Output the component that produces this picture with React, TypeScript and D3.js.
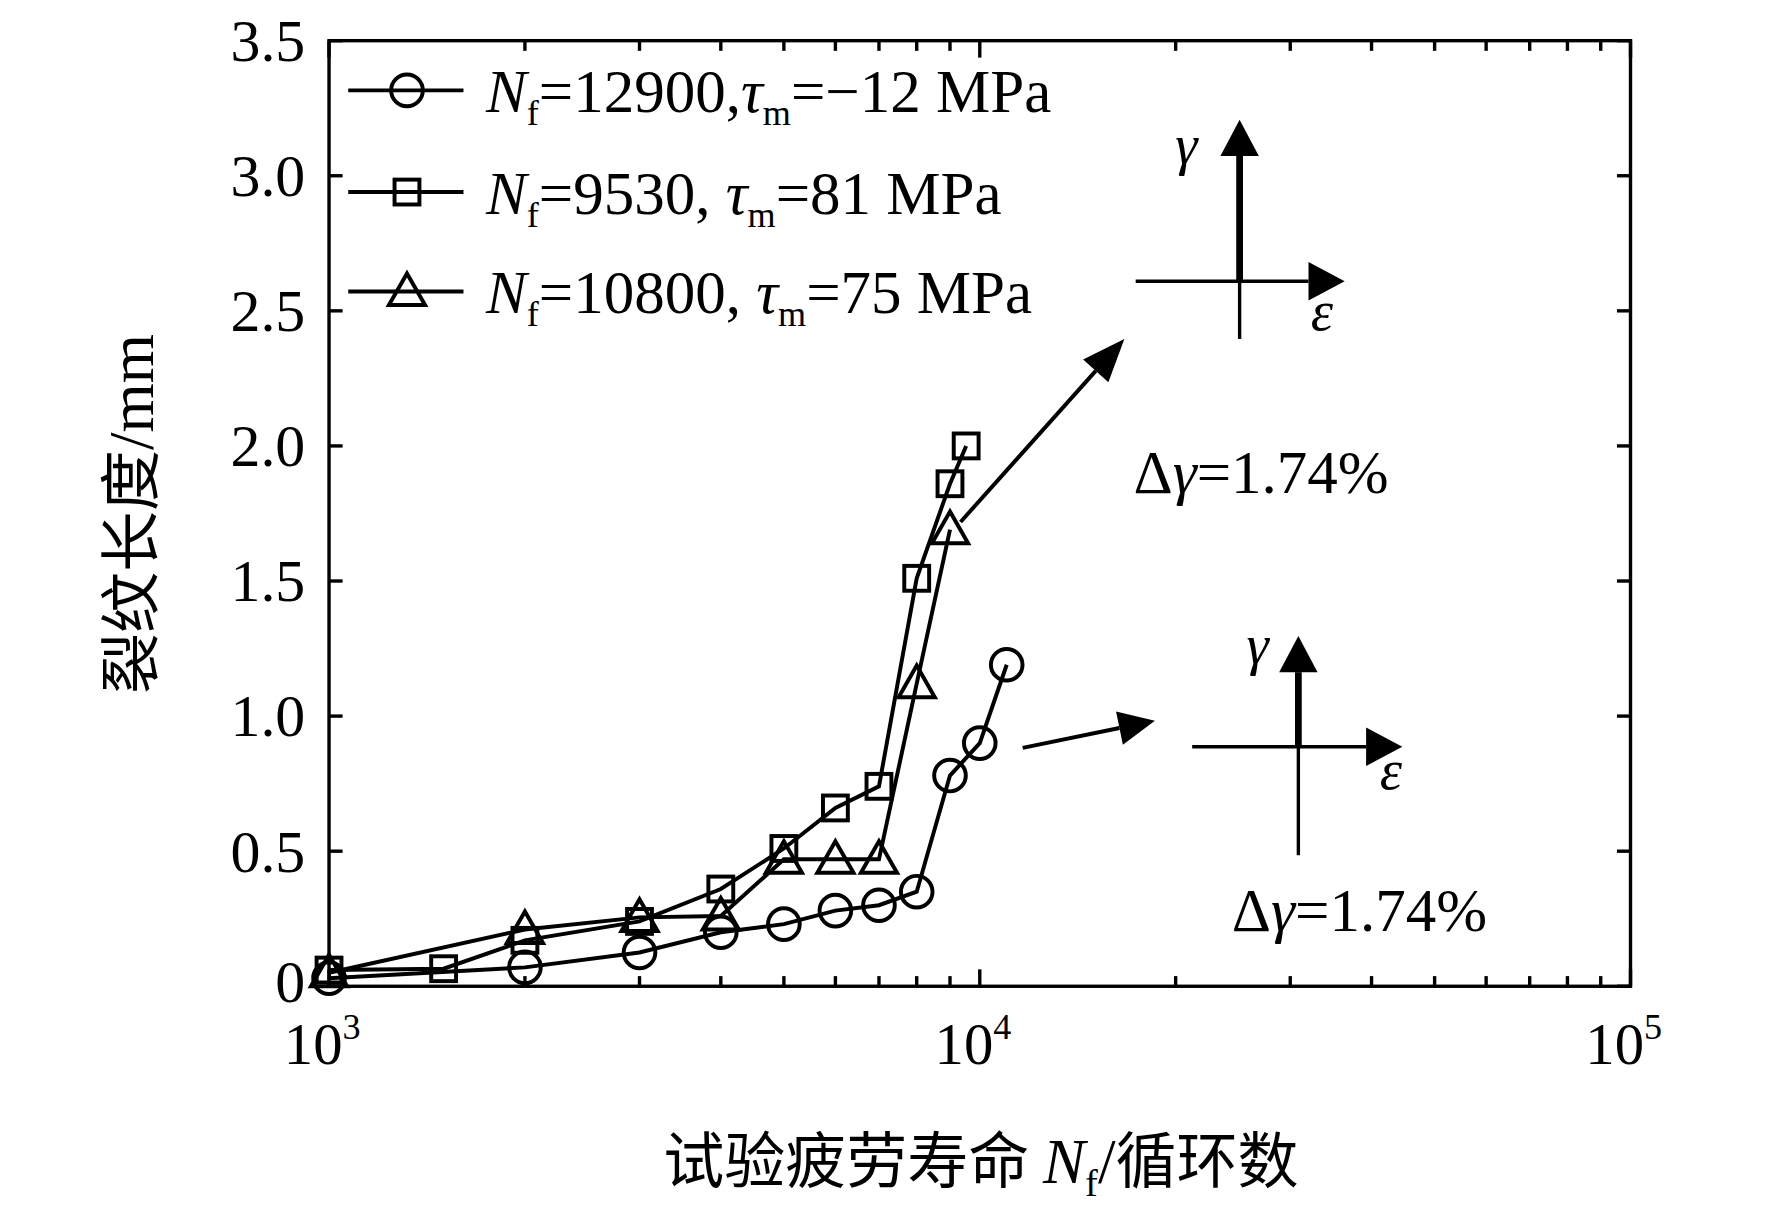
import React from "react";
import * as d3 from "d3";

const xCircle = [1000, 2000, 3000, 4000, 5000, 6000, 7000, 8000, 9000, 10000, 11000];
const yCircle = [0.03, 0.07, 0.125, 0.2, 0.23, 0.28, 0.3, 0.35, 0.78, 0.9, 1.19];
const xSquare = [1000, 1500, 2000, 3000, 4000, 5000, 6000, 7000, 8000, 9000, 9530];
const ySquare = [0.06, 0.065, 0.17, 0.24, 0.36, 0.51, 0.66, 0.74, 1.51, 1.86, 2.0];
const xTri = [1000, 2000, 3000, 4000, 5000, 6000, 7000, 8000, 9000];
const yTri = [0.05, 0.21, 0.255, 0.26, 0.47, 0.47, 0.47, 1.12, 1.69];
const yTicks = [0, 0.5, 1, 1.5, 2, 2.5, 3, 3.5];
const xMajor = [1000, 10000, 100000];
const legendNf = ["12900,", "9530, ", "10800, "];
const legendTau = ["=\u221212 MPa", "=81 MPa", "=75 MPa"];

const F = "'Liberation Serif', 'Times New Roman', serif";
const CJK = "'Noto Sans CJK SC', sans-serif";

export default function App() {
  const x = d3.scaleLog().domain([1000, 100000]).range([291, 1443]);
  const y = d3.scaleLinear().domain([0, 3.5]).range([873, 36]);
  const line = d3.line<[number, number]>().x(d => x(d[0])).y(d => y(d[1]));
  const minor: number[] = [];
  for (const b of [1000, 10000]) for (let k = 2; k <= 9; k++) minor.push(b * k);
  const sw = 3.5;
  const circle = (cx: number, cy: number, k: string) => <circle key={k} cx={cx} cy={cy} r={14} fill="none" stroke="#000" strokeWidth={sw} />;
  const square = (cx: number, cy: number, k: string) => <rect key={k} x={cx - 11} y={cy - 11} width={22} height={22} fill="none" stroke="#000" strokeWidth={sw} />;
  const tri = (cx: number, cy: number, k: string) => <path key={k} d={`M${cx},${cy - 16}L${cx + 16},${cy + 12}L${cx - 16},${cy + 12}Z`} fill="none" stroke="#000" strokeWidth={sw} />;
  const series = [
    { xs: xCircle, ys: yCircle, m: circle },
    { xs: xSquare, ys: ySquare, m: square },
    { xs: xTri, ys: yTri, m: tri },
  ];
  const arrow = (x1: number, y1: number, x2: number, y2: number, w: number, hl: number, hw: number) => {
    const a = Math.atan2(y2 - y1, x2 - x1);
    const bx = x2 - hl * Math.cos(a), by = y2 - hl * Math.sin(a);
    const px = -Math.sin(a) * hw, py = Math.cos(a) * hw;
    return (
      <g>
        <line x1={x1} y1={y1} x2={bx} y2={by} stroke="#000" strokeWidth={w} />
        <path d={`M${x2},${y2}L${bx + px},${by + py}L${bx - px},${by - py}Z`} fill="#000" />
      </g>
    );
  };
  return (
    <svg width={1772} height={1219} viewBox="0 0 1568 1079" style={{ position: "absolute", left: 0, top: 0, background: "#fff" }}>
      <rect x={291} y={36} width={1152} height={837} fill="none" stroke="#000" strokeWidth={3} />
      {yTicks.map(t => (
        <g key={t}>
          <line x1={291} x2={303} y1={y(t)} y2={y(t)} stroke="#000" strokeWidth={3} />
          <line x1={1443} x2={1431} y1={y(t)} y2={y(t)} stroke="#000" strokeWidth={3} />
          <text x={270} y={y(t) + (t === 0 ? 14 : 18)} textAnchor="end" fontFamily={F} fontSize={53}>{t === 0 ? "0" : t.toFixed(1)}</text>
        </g>
      ))}
      {xMajor.map(t => (
        <g key={t}>
          <line x1={x(t)} x2={x(t)} y1={873} y2={858} stroke="#000" strokeWidth={3} />
          <line x1={x(t)} x2={x(t)} y1={36} y2={51} stroke="#000" strokeWidth={3} />
          <text x={x(t) - 6} y={942} textAnchor="middle" fontFamily={F} fontSize={52}>10<tspan dy={-22} fontSize={32}>{Math.round(Math.log10(t))}</tspan></text>
        </g>
      ))}
      {minor.map(t => (
        <g key={t}>
          <line x1={x(t)} x2={x(t)} y1={873} y2={864} stroke="#000" strokeWidth={3} />
          <line x1={x(t)} x2={x(t)} y1={36} y2={45} stroke="#000" strokeWidth={3} />
        </g>
      ))}
      {series.map((s, i) => {
        const pts = s.xs.map((v, j) => [v, s.ys[j]] as [number, number]);
        return (
          <g key={i}>
            <path d={line(pts) || ""} fill="none" stroke="#000" strokeWidth={sw} />
            {pts.map((p, j) => s.m(x(p[0]), y(p[1]), `${i}-${j}`))}
          </g>
        );
      })}
      {series.map((s, i) => {
        const ly = [80, 170, 258][i];
        return (
          <g key={"l" + i}>
            <line x1={308} x2={410} y1={ly} y2={ly} stroke="#000" strokeWidth={sw} />
            {s.m(360, ly, "lm" + i)}
            <text x={430} y={ly + 19} fontFamily={F} fontSize={54}>
              <tspan fontStyle="italic">N</tspan><tspan dy={12} fontSize={32}>f</tspan><tspan dy={-12}>={legendNf[i]}</tspan>
              <tspan fontStyle="italic">τ</tspan><tspan dy={12} fontSize={32}>m</tspan><tspan dy={-12}>{legendTau[i]}</tspan>
            </text>
          </g>
        );
      })}
      {arrow(850, 462, 995, 300, 3.5, 38, 15)}
      {arrow(905, 662, 1022, 638, 3.5, 32, 15)}
      <line x1={1097} y1={300} x2={1097} y2={249} stroke="#000" strokeWidth={3} />
      {arrow(1097, 249, 1097, 106, 6, 32, 17)}
      {arrow(1005, 249, 1190, 249, 3, 32, 17)}
      <text x={1040} y={145} fontFamily={F} fontSize={50} fontStyle="italic">γ</text>
      <text x={1160} y={292} fontFamily={F} fontSize={50} fontStyle="italic">ε</text>
      <line x1={1149} y1={757} x2={1149} y2={661} stroke="#000" strokeWidth={3} />
      {arrow(1149, 661, 1149, 563, 6, 32, 17)}
      {arrow(1055, 661, 1241, 661, 3, 32, 17)}
      <text x={1103} y={588} fontFamily={F} fontSize={50} fontStyle="italic">γ</text>
      <text x={1221} y={698} fontFamily={F} fontSize={50} fontStyle="italic">ε</text>
      <text x={1003} y={436} fontFamily={F} fontSize={54}>Δ<tspan fontStyle="italic">γ</tspan>=1.74%</text>
      <text x={1090} y={824} fontFamily={F} fontSize={54}>Δ<tspan fontStyle="italic">γ</tspan>=1.74%</text>
      <text x={868} y={1047} textAnchor="middle" fontSize={54}>
        <tspan fontFamily={CJK}>试验疲劳寿命 </tspan><tspan fontFamily={F} fontStyle="italic" fontSize={56}>N</tspan><tspan fontFamily={F} fontSize={34} dy={12}>f</tspan><tspan fontFamily={F} fontSize={56} dy={-12}>/</tspan><tspan fontFamily={CJK}>循环数</tspan>
      </text>
      <text transform="translate(135,455) rotate(-90)" textAnchor="middle" fontSize={54}>
        <tspan fontFamily={CJK}>裂纹长度</tspan><tspan fontFamily={F} fontSize={56}>/mm</tspan>
      </text>
    </svg>
  );
}
